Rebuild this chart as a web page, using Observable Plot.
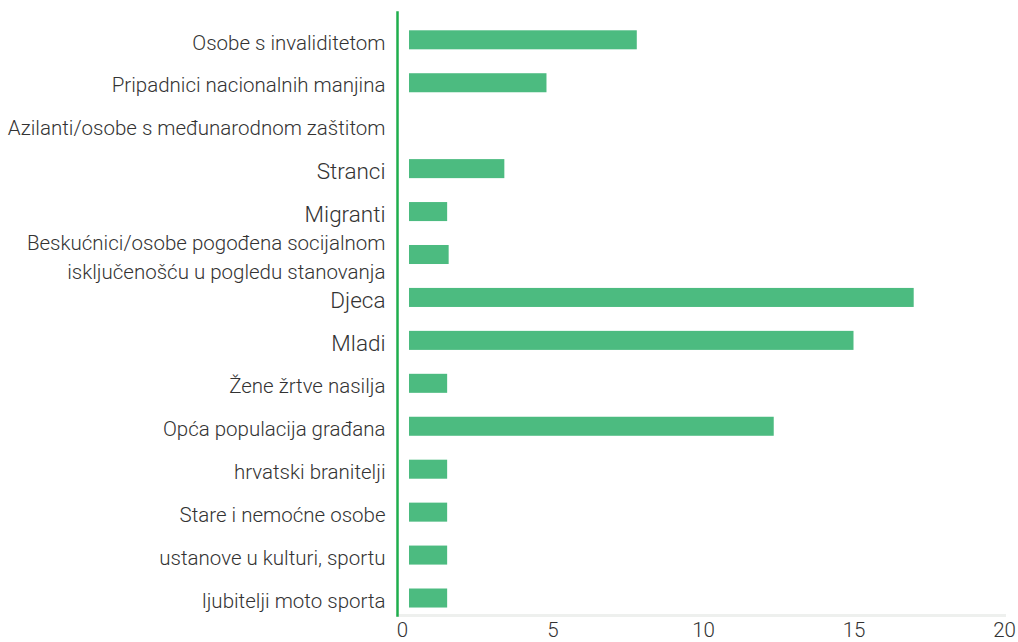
<!DOCTYPE html>
<html>
<head>
<meta charset="utf-8">
<script src="https://cdn.jsdelivr.net/npm/d3@7"></script>
<script src="https://cdn.jsdelivr.net/npm/@observablehq/plot@0.6"></script>
<style>
  html, body { margin: 0; padding: 0; background: #fff; }
  #chart svg { display: block; }
</style>
</head>
<body>
<div id="chart"></div>
<script>
const categories = [
  "Osobe s invaliditetom",
  "Pripadnici nacionalnih manjina",
  "Azilanti/osobe s međunarodnom zaštitom",
  "Stranci",
  "Migranti",
  "Beskućnici/osobe pogođena socijalnom\nisključenošću u pogledu stanovanja",
  "Djeca",
  "Mladi",
  "Žene žrtve nasilja",
  "Opća populacija građana",
  "hrvatski branitelji",
  "Stare i nemoćne osobe",
  "ustanove u kulturi, sportu",
  "ljubitelji moto sporta"
];
const values = [7.8, 4.8, 0, 3.4, 1.5, 1.55, 17, 15, 1.5, 12.35, 1.5, 1.5, 1.5, 1.5];
const xTicks = [0, 5, 10, 15, 20];

const data = categories.map((c, i) => ({category: c, value: values[i]}));

// labels rendered in a slightly larger size in the original
const bigLabels = new Set(["Stranci", "Migranti", "Djeca", "Mladi"]);

const chart = Plot.plot({
  width: 1018,
  height: 642,
  marginTop: 12,
  marginBottom: 27,
  marginLeft: 397,
  marginRight: 14,
  style: {fontFamily: "Roboto, 'Open Sans', sans-serif", fontWeight: 300, color: "#333"},
  x: {domain: [0, 20], insetLeft: 5, ticks: xTicks},
  y: {domain: categories, paddingInner: 0.557, paddingOuter: 0.3, align: 0.71, round: false},
  marks: [
    Plot.frame({anchor: "bottom", stroke: "#eef0ee", strokeWidth: 3}),
    Plot.barX(data, {x: "value", y: "category", fill: "#4cbb80", insetLeft: 7}),
    Plot.frame({anchor: "left", stroke: "#1fae4c", strokeWidth: 2.5}),
    Plot.axisX({ticks: xTicks, tickSize: 0, tickPadding: 7, fontSize: 20.5, label: null, fill: "#333"}),
    Plot.axisY({tickSize: 0, tickPadding: 12, fontSize: (d) => bigLabels.has(d) ? 22.5 : 20.5, label: null, lineHeight: 1.41, fill: "#333"})
  ]
});
document.getElementById("chart").appendChild(chart);
</script>
</body>
</html>
